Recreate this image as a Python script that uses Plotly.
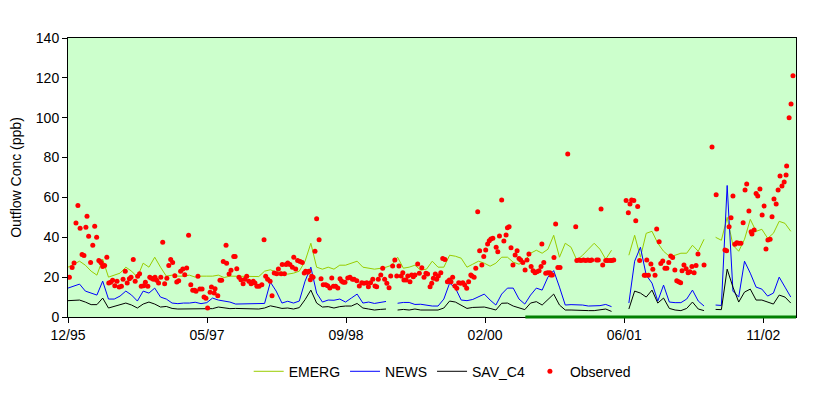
import pandas as pd
import plotly.graph_objects as go

# ---------------- data ----------------
start = pd.Timestamp("1995-12-20")      # first tick (12/95)
STEP_DAYS = 21                           # model output spacing
AXIS_DAYS = 2644                         # axis length in days
TICK_DAYS = 505                          # spacing of date ticks
PERIOD_START_DAY = 1661                  # start of highlighted period

tick_labels = ["12/95", "05/97", "09/98", "02/00", "06/01", "11/02"]

emerg = [
    25, 26.5, 28, 26, 23, 21, 29, 20, 21, 22,
    25, 23, 20, 27, 25, 30, 25, 20.5, 21, 20.5,
    20.5, 21, 20, 20.5, 20.5, 20.5, 21, 19.8, 20.5, 20.5,
    20.5, 20.5, 20.5, 20.3, 23, 23.7, 22.5, 22.5, 21.5, 22,
    23, 28, 37, 25, 24, 25, 24, 26, 26, 27,
    28, 25, 24.5, 24, 24.4, 25, 26, 30, 24.5, 25,
    26, 23.5, 24, 28, 25, 25, 31, 30.5, 29.5, 25,
    26.5, 28, 27, 25.5, 27, 30, 30, 27.5, 26.5, 28,
    32, 33.5, 32, 34, 41, 30, 37, 35, 28.5, 31,
    34, 37, 34, 29, 33.5, None, None, 31, 41, 30,
    42, 43, 37, 33, 30.5, 31, 32, 32, 36, 33,
    39, None, 40, 38.5, 50, 36, 33, 39, 49, 43,
    44, 39.5, 42, 48, 47, 43,
]

news = [
    14.5, 15.7, 16.5, 13, 12, 11, 18, 9, 9, 10.5,
    13, 11, 8, 13, 12, 14.5, 10, 9, 7, 6.7,
    7, 7, 7.4, 6.7, 7.2, 9.5, 8.5, 8, 7.5, 6.5,
    6.5, 6.7, 6.7, 6.7, 6.8, 17.5, 13, 7, 7.9, 7,
    8, 18, 25, 12, 7.5, 8.5, 8.4, 9, 7.5, 9.5,
    11.5, 7, 7.5, 6.8, 7.2, 7.8, None, 6.9, 7.3, 7.3,
    6.3, 6.4, 6, 5.5, 5.5, 9, 17, 14.5, 8.5, 8.2,
    8.8, 10, 11.5, 8.5, 6, 11.5, 14.5, 14.5, 9, 6.5,
    11, 14.5, 13.5, 20, 23.3, 15, 6, 6.2, 6.1, 6,
    5.5, 5.5, 5.7, 6.3, 5.2, None, None, 7, 28, 35,
    21, 17, 8, 16, 7.5, 7.2, 7.2, 9, 13.5, 8,
    5.5, None, 6, 5.8, 66, 13, 10, 28, 22, 15,
    14, 10.5, 12, 20, 15, 10,
]

sav_c4 = [
    8.2, 8.2, 8.5, 7.5, 6.2, 6.2, 9.5, 4.5, 5.3, 6,
    7, 6, 4.5, 6.5, 7.5, 6.5, 5, 5.3, 4.3, 4,
    4, 4.2, 4, 4.2, 4, 4.2, 5, 4.5, 4.2, 4.3,
    4.3, 4, 4, 4, 4.5, 5.6, 5, 4.3, 4.5, 4,
    4.7, 8.7, 13.5, 7, 5, 5.2, 4.5, 5.2, 5.5, 5.5,
    6.8, 4.5, 4, 3.5, 3.8, 4, None, 3.5, 3.8, 3.5,
    4, 3.5, 3.5, 3.5, 3.5, 4.5, 8, 7.5, 6, 4.3,
    4.8, 4.8, 5, 4.3, 3.5, 6.9, 7, 5.5, 4.7, 3.7,
    7, 7.7, 6, 9, 11.5, 6, 3.5, 3.5, 3.3, 3.2,
    3.2, 3.2, 3.5, 4, 2.8, None, None, 4, 13, 12,
    10, 13.5, 7, 9.5, 4.3, 3.5, 3.2, 4.3, 7.5, 4,
    3.2, None, 3.8, 3.7, 24, 15, 7.5, 12.5, 14, 8.5,
    8.5, 7.5, 6.5, 11, 10, 7,
]

obs_day = [
    5, 15, 22, 29, 36, 44, 51, 58, 65, 69, 75, 82, 90, 97, 104, 112, 117, 121, 126, 133,
    141, 148, 155, 162, 170, 178, 186, 194, 200, 208, 215, 223, 229, 237, 244, 253, 260, 266, 275, 281,
    290, 297, 303, 310, 316, 322, 329, 337, 344, 351, 359, 366, 373, 380, 388, 395, 402, 409, 417, 424,
    431, 438, 446, 453, 460, 465, 472, 479, 487, 494, 501, 507, 516, 521, 531, 534, 544, 552, 558, 564,
    574, 576, 585, 592, 602, 607, 613, 621, 628, 636, 643, 649, 657, 665, 673, 679, 686, 694, 704, 712,
    718, 725, 734, 741, 749, 758, 764, 774, 778, 786, 792, 798, 806, 815, 820, 827, 834, 843, 851, 858,
    863, 871, 875, 880, 885, 890, 897, 903, 912, 919, 927, 936, 943, 951, 958, 964, 972, 980, 988, 994,
    1000, 1006, 1016, 1024, 1033, 1039, 1049, 1058, 1067, 1075, 1085, 1091, 1099, 1107, 1115, 1121, 1127, 1136, 1143, 1150,
    1158, 1166, 1172, 1179, 1187, 1194, 1202, 1210, 1216, 1220, 1228, 1234, 1242, 1248, 1254, 1260, 1270, 1276, 1285, 1293,
    1300, 1306, 1315, 1321, 1327, 1334, 1339, 1345, 1354, 1361, 1369, 1378, 1385, 1391, 1397, 1405, 1412, 1419, 1426, 1434,
    1441, 1448, 1455, 1463, 1467, 1475, 1481, 1488, 1495, 1503, 1510, 1517, 1524, 1530, 1536, 1543, 1555, 1561, 1567, 1575,
    1583, 1591, 1596, 1602, 1609, 1616, 1624, 1631, 1638, 1644, 1652, 1660, 1667, 1674, 1682, 1689, 1696, 1703, 1711, 1718,
    1721, 1728, 1735, 1742, 1750, 1754, 1759, 1765, 1771, 1779, 1787, 1815, 1844, 1848, 1856, 1863, 1872, 1880, 1888, 1896,
    1902, 1920, 1926, 1936, 1942, 1953, 1960, 1969, 1975, 1982, 2027, 2035, 2041, 2047, 2055, 2062, 2069, 2076, 2093, 2098,
    2102, 2108, 2117, 2124, 2132, 2138, 2147, 2153, 2160, 2168, 2175, 2182, 2189, 2196, 2204, 2211, 2218, 2225, 2230, 2237,
    2245, 2252, 2259, 2266, 2274, 2281, 2288, 2310, 2339, 2354, 2386, 2392, 2401, 2408, 2415, 2422, 2429, 2436, 2444, 2452,
    2459, 2465, 2473, 2481, 2484, 2492, 2499, 2505, 2513, 2521, 2528, 2535, 2542, 2550, 2557, 2564, 2572, 2579, 2586, 2593,
    2601, 2608, 2610, 2619, 2626, 2633,
]

obs_val = [
    19.9, 24.9, 27.1, 47.2, 56, 44.5, 31.3, 30.8, 45, 50.5, 40.5, 27.4, 36, 45.5, 40, 28.4, 27.9, 27.1, 25.4, 25.8,
    30, 17, 17.4, 18.4, 15.7, 17.9, 15, 15.4, 19, 22.9, 17, 19.2, 20, 28.8, 17.9, 20.4, 21.7, 15.4, 15.7, 17.4,
    15.4, 20, 19.4, 19, 20, 18.4, 17, 20, 37.5, 16.7, 19.4, 25.8, 28.8, 27.4, 20.7, 17.6, 18.2, 22.9, 24.1, 21.2,
    24.6, 41, 16.2, 13.4, 13.4, 12.9, 20.4, 14, 14, 10, 9.4, 4.5, 12.4, 15, 12, 14.2, 10.7, 18.4, 18.4, 27.9,
    36, 27, 21.6, 23.4, 30.4, 30.4, 24.2, 20, 18.7, 16.7, 19, 20.4, 17.9, 16.7, 17.9, 17, 15.4, 15.4, 16.2, 38.8,
    20.4, 19, 17.9, 10.7, 22.1, 21.7, 24.1, 21.7, 26.3, 21.7, 26.3, 27.1, 26.3, 25, 30, 24.1, 28.3, 27.9, 27.4, 22.1,
    22.9, 22.4, 22.9, 18.7, 20.4, 20, 33, 49.3, 38.8, 19.2, 16.2, 16.2, 15.7, 14.5, 19.6, 15.4, 15.4, 14.5, 19.2, 17.9,
    17.4, 17.4, 19.6, 20, 19, 18.9, 18.2, 15.6, 17.2, 16.9, 17.2, 15.2, 17.2, 18.9, 15.6, 15.2, 18.9, 21.1, 24.4, 18.9,
    16.9, 14.7, 20.6, 25.6, 28.6, 20.6, 25.6, 20.6, 22.2, 18.6, 18.6, 20.6, 17.7, 21.1, 20.2, 21.1, 26.6, 21.9, 24.7, 19.9,
    21.9, 21.6, 15.2, 16.9, 19.4, 21.6, 18.9, 20.6, 22.2, 29.4, 28.9, 17.7, 18.6, 17.7, 19.9, 15.6, 14.4, 17.2, 16.9, 17.2,
    16, 14.4, 17.7, 21.1, 20.6, 19.9, 24.4, 52.8, 33.3, 26.1, 30.3, 33.6, 36.6, 38.3, 39.1, 39.5, 35, 32.8, 40.6, 58.7,
    38.1, 41.1, 44.8, 45.3, 34.8, 26.1, 31.1, 33.3, 29.4, 28.6, 27.3, 23.6, 28.6, 31.6, 25.3, 23.2, 22.2, 22.7, 23.2, 25.3,
    36.6, 27.3, 21.9, 22.2, 22.2, 21.1, 21.1, 29.9, 46.7, 24.9, 24.9, 81.8, 45.3, 28.3, 28.6, 28.3, 28.6, 28.3, 28.6, 28.3,
    28.6, 28.6, 28.6, 54.2, 26.1, 28.3, 28.3, 28.3, 28.3, 28.6, 58.4, 52.3, 56.7, 58.7, 58.4, 48.3, 55.4, 28.3, 21, 21,
    28.6, 21, 26.6, 23.9, 21, 44.1, 37.8, 26.9, 28.1, 24.4, 24.4, 27.3, 30.6, 29.8, 23.6, 18.2, 17.7, 17.2, 23.2, 26.1,
    24.2, 22.2, 22.7, 25.3, 22.2, 25.8, 31.6, 26.1, 85.3, 61.4, 33.6, 33.3, 45.3, 49.8, 60.7, 36.5, 37.3, 37, 37, 47.3,
    63.7, 66.7, 53.2, 42.8, 41.6, 43.6, 62, 60.7, 64.2, 51.2, 55.7, 34.1, 38.6, 39, 50.3, 59.2, 56.7, 63.7, 70.7, 65.7,
    67.7, 71.2, 75.8, 100, 106.9, 121,
]

# ---------------- derived x values ----------------
model_dates = start + pd.to_timedelta([STEP_DAYS * i for i in range(len(emerg))], unit="D")
obs_dates = start + pd.to_timedelta(obs_day, unit="D")
tick_dates = [start + pd.Timedelta(days=TICK_DAYS * k) for k in range(len(tick_labels))]
x_end = start + pd.Timedelta(days=AXIS_DAYS)
period_start = start + pd.Timedelta(days=PERIOD_START_DAY)

FONT = "Liberation Sans, Arial, sans-serif"
FS = 14

fig = go.Figure()
fig.add_trace(go.Scatter(x=model_dates, y=emerg, mode="lines", name="EMERG",
                         line=dict(color="#99CC00", width=1)))
fig.add_trace(go.Scatter(x=model_dates, y=news, mode="lines", name="NEWS",
                         line=dict(color="#0000FF", width=1)))
fig.add_trace(go.Scatter(x=model_dates, y=sav_c4, mode="lines", name="SAV_C4",
                         line=dict(color="#000000", width=1)))
fig.add_trace(go.Scatter(x=obs_dates, y=obs_val, mode="markers", name="Observed",
                         marker=dict(color="#FF0000", size=5, line=dict(width=0))))

fig.add_shape(type="line", xref="x", yref="paper", x0=period_start, x1=x_end,
              y0=0, y1=0, line=dict(color="#008000", width=3), layer="above")

# page body has an 8px margin, so the figure is sized/offset to compensate
fig.update_layout(
    width=820, height=387,
    margin=dict(l=60, r=32, t=30, b=78, autoexpand=False),
    paper_bgcolor="white", plot_bgcolor="#CCFFCC",
    font=dict(family=FONT, size=FS, color="black"),
    showlegend=True,
    legend=dict(orientation="h", x=0.514, xanchor="center", y=-0.196, yanchor="middle",
                font=dict(family=FONT, size=FS, color="black"),
                bgcolor="rgba(0,0,0,0)"),
)
fig.update_xaxes(type="date", range=[start, x_end], tickmode="array",
                 tickvals=tick_dates, ticktext=tick_labels,
                 ticks="outside", ticklen=5, tickcolor="black", tickwidth=1,
                 showline=True, linecolor="black", linewidth=1, mirror=True,
                 showgrid=False, zeroline=False)
fig.update_yaxes(range=[0, 140], dtick=20, tick0=0,
                 ticks="outside", ticklen=5, tickcolor="black", tickwidth=1,
                 showline=True, linecolor="black", linewidth=1, mirror=True,
                 showgrid=False, zeroline=False,
                 title=dict(text="Outflow Conc (ppb)", standoff=10,
                            font=dict(family=FONT, size=FS, color="black")))

fig.write_html("out.html")
